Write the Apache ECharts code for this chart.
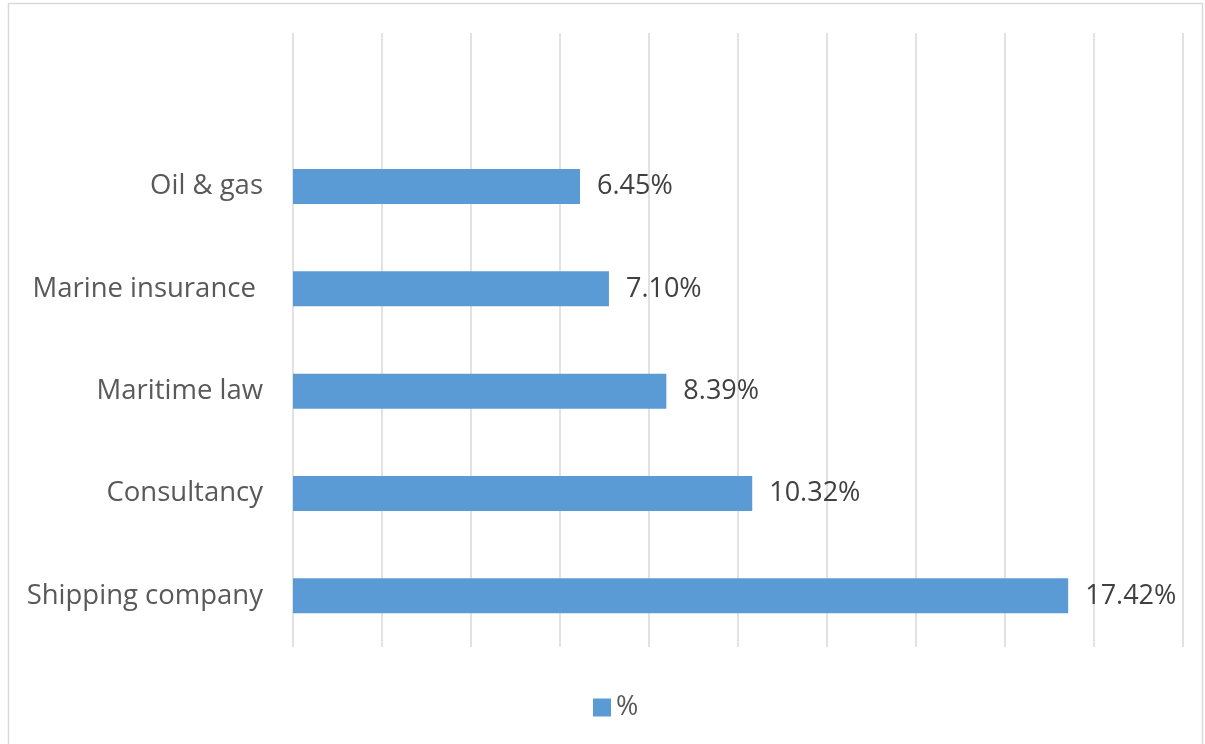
<!DOCTYPE html>
<html>
<head>
<meta charset="utf-8">
<script src="https://cdn.jsdelivr.net/npm/echarts@6/dist/echarts.min.js"></script>
<style>
  html, body { margin: 0; padding: 0; background: #fff; }
  #chart { width: 1205px; height: 744px; }
</style>
</head>
<body>
<div id="chart"></div>
<script>
// Sectors, listed from the bottom of the axis up; the top slot is left empty
const categories = ['Shipping company', 'Consultancy', 'Maritime law', 'Marine insurance ', 'Oil & gas', ''];
const shares = [17.42, 10.32, 8.39, 7.10, 6.45, null];
const seriesName = '%';

const FONT = 'Open Sans, Liberation Sans, sans-serif';

const chart = echarts.init(document.getElementById('chart'));
chart.setOption({
  animation: false,
  backgroundColor: '#ffffff',
  graphic: [{
    type: 'rect',
    shape: { x: 8.5, y: 3.5, width: 1194, height: 760 },
    style: { fill: 'none', stroke: '#d9d9d9', lineWidth: 1.5 },
    silent: true
  }],
  grid: { left: 293, right: 22, top: 33, bottom: 97, containLabel: false },
  legend: {
    top: 689,
    left: 588,
    itemWidth: 18,
    itemHeight: 18,
    itemGap: 8,
    textStyle: { color: '#595959', fontSize: 27, fontFamily: FONT },
    data: [{ name: seriesName, icon: 'rect' }]
  },
  xAxis: {
    type: 'value',
    min: 0,
    max: 20,
    interval: 2,
    axisLabel: { show: false },
    axisLine: { show: false },
    axisTick: { show: false },
    splitLine: { show: true, lineStyle: { color: '#d9d9d9', width: 1.5 } }
  },
  yAxis: {
    type: 'category',
    data: categories,
    axisLine: { show: false },
    axisTick: { show: false },
    axisLabel: {
      color: '#595959',
      fontSize: 27.5,
      fontFamily: FONT,
      margin: 30
    }
  },
  series: [{
    name: seriesName,
    type: 'bar',
    data: shares,
    barWidth: 35,
    itemStyle: { color: '#5b9bd5' },
    label: {
      show: true,
      position: 'right',
      distance: 17,
      color: '#404040',
      fontSize: 27,
      fontFamily: FONT,
      formatter: p => p.value == null ? '' : p.value.toFixed(2) + '%'
    }
  }]
});
</script>
</body>
</html>
